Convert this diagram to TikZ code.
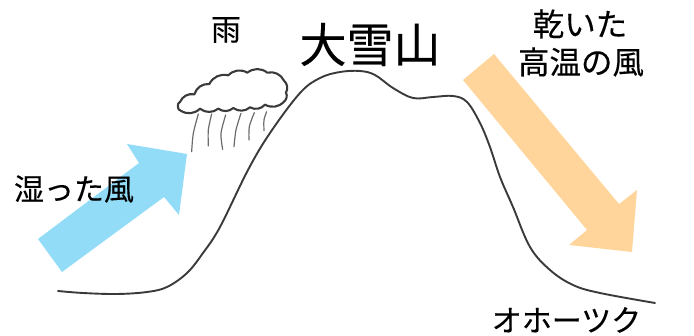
\documentclass[tikz,border=0pt]{standalone}
\usepackage{xcolor}
\usepackage{fontspec}
\newfontfamily\jpfont[FakeBold=0.3]{Noto Sans CJK JP}
\definecolor{wetblue}{HTML}{92DCF8}
\definecolor{dryorange}{HTML}{FFD59B}
\definecolor{pencil}{HTML}{3A3A3A}
\tikzset{
    label30/.style={inner sep=0pt, text=black, font=\jpfont\fontsize{30}{36}\selectfont},
    label32/.style={inner sep=0pt, text=black, font=\jpfont\fontsize{31.5}{38}\selectfont},
    title/.style={inner sep=0pt, text=black, font=\jpfont\fontsize{47}{54}\selectfont},
    ridge/.style={draw=pencil, line width=1.9pt, line join=round, line cap=round},
    puff/.style={draw=pencil, line width=2.1pt, line join=round, line cap=round},
    rain/.style={draw=pencil!75, line width=1.2pt, line cap=round},
}

\begin{document}
\begin{tikzpicture}[x=1pt, y=-1pt]
    \useasboundingbox (0,0) rectangle (694,336);
    % les deux vents
    \fill[wetblue] (38,239) -- (139,163) -- (127,144) -- (187,154) -- (179,215) -- (164,197) -- (62,272) -- cycle;
    \fill[dryorange] (494,54) -- (619,204) -- (637,190) -- (632,252) -- (569,245) -- (587,230) -- (463,80) -- cycle;
    % la montagne
    \draw[ridge] plot[smooth, tension=0.6] coordinates {
        (58,291) (83,293) (117,294) (147,292) (167,287) (187,273) (203,253) (220,227)
        (248,170) (270,133) (300,93) (320,78) (340,72) (360,71)
        (375,75) (393,88) (413,98) (433,97) (453,96) (467,102) (480,123)
        (490,147) (500,177) (513,207) (530,247) (550,270) (573,285) (600,293) (655,303)};
    % le nuage
    \begin{scope}[shift={(160,60)}, scale=0.3333, bend angle=38]
        \draw[puff, fill=white] (62,152) to[bend left=85] (60,126) to[bend left] (103,103)
            to[bend left] (148,72) to[bend left] (205,46) to[bend left] (262,38)
            to[bend left] (322,38) to[bend left] (372,62) to[bend left] (378,98)
            to[bend left] (372,125) to[bend left] (315,134) to[bend left] (270,142)
            to[bend left] (220,144) to[bend left] (175,146) to[bend left] (120,146)
            to[bend left] (62,152) -- cycle;
        \draw[rain] plot[smooth] coordinates {(115,162) (100,220) (95,275)};
        \draw[rain] plot[smooth] coordinates {(155,162) (145,210) (145,258)};
        \draw[rain] plot[smooth] coordinates {(197,165) (183,220) (188,268)};
        \draw[rain] plot[smooth] coordinates {(243,160) (228,210) (222,260)};
        \draw[rain] plot[smooth] coordinates {(283,158) (268,200) (267,240)};
        \draw[rain] plot[smooth] coordinates {(320,155) (312,180) (312,212)};
    \end{scope}
    % les textes
    \node[label30] (rainlabel) at (226,30) {雨};
    \node[title] (peak) at (370,44.5) {大雪山};
    \node[label32] (dry1) at (580,24) {乾いた};
    \node[label32] (dry2) at (581,62) {高温の風};
    \node[label30] (wet) at (74,189) {湿った風};
    \node[label30] (okhotsk) at (566.5,320) {オホーツク};
\end{tikzpicture}
\end{document}
